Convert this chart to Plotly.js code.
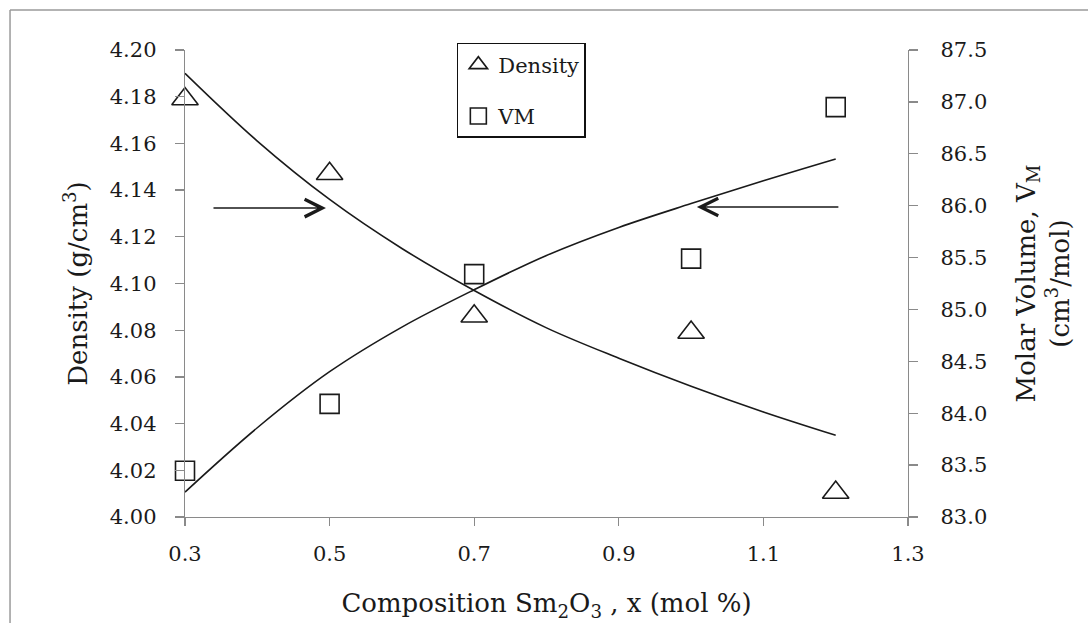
<!DOCTYPE html>
<html>
<head>
<meta charset="utf-8">
<script src="https://cdn.plot.ly/plotly-3.0.1.min.js"></script>
<style>html,body{margin:0;padding:0;background:#fff;}#chart{width:1088px;height:623px;}</style>
</head>
<body>
<div id="chart"></div>
<script>
// Measured points
const compositionX = [0.3, 0.5, 0.7, 1.0, 1.2];
const densityValues = [4.179, 4.147, 4.086, 4.079, 4.0105];
const molarVolumeValues = [83.445, 84.09, 85.34, 85.49, 86.95];

// Fitted trend curves
const fitX = [0.3, 0.4, 0.5, 0.6, 0.7, 0.8, 0.9, 1.0, 1.1, 1.2];
const densityFit = [4.190, 4.161, 4.136, 4.115, 4.097, 4.081, 4.068, 4.056, 4.045, 4.035];
const molarVolumeFit = [83.24, 83.86, 84.40, 84.83, 85.19, 85.52, 85.79, 86.02, 86.24, 86.45];

const FONT = '"DejaVu Serif", "Liberation Serif", serif';
const INK = '#1a1a1a';
const AX = '#8a8a8a';

const traces = [
  {x: fitX, y: densityFit, type: 'scatter', mode: 'lines', line: {color: INK, width: 1.6, shape: 'spline'},
   showlegend: false, hoverinfo: 'skip', yaxis: 'y'},
  {x: fitX, y: molarVolumeFit, type: 'scatter', mode: 'lines', line: {color: INK, width: 1.6, shape: 'spline'},
   showlegend: false, hoverinfo: 'skip', yaxis: 'y2'},
  {x: compositionX, y: densityValues, type: 'scatter', mode: 'markers', name: 'Density', legendgroup: 'd',
   cliponaxis: false,
   marker: {symbol: 'triangle-up-open', size: 23, color: INK, line: {width: 1.6, color: INK}}, yaxis: 'y'},
  {x: compositionX, y: molarVolumeValues, type: 'scatter', mode: 'markers', name: 'VM', legendgroup: 'v',
   cliponaxis: false,
   marker: {symbol: 'square-open', size: 19, color: INK, line: {width: 1.6, color: INK}}, yaxis: 'y2'}
];

const axisCommon = {
  showgrid: false, zeroline: false, showline: true, linecolor: AX, linewidth: 1.3,
  ticks: 'outside', tickcolor: AX, tickwidth: 1.3,
  tickfont: {family: FONT, size: 21, color: INK}
};

const layout = {
  width: 1088, height: 623,
  margin: {l: 185, r: 180, t: 50, b: 106},
  paper_bgcolor: '#fff', plot_bgcolor: '#fff',
  font: {family: FONT, color: INK},
  xaxis: Object.assign({}, axisCommon, {
    range: [0.3, 1.3], tick0: 0.3, dtick: 0.2, tickformat: '.1f', ticklen: 8, ticklabelstandoff: 9,
    title: {text: 'Composition Sm<sub>2</sub>O<sub>3</sub> , x (mol %)', font: {family: FONT, size: 26, color: INK}, standoff: 29}
  }),
  yaxis: Object.assign({}, axisCommon, {
    range: [4.0, 4.2], dtick: 0.02, tickformat: '.2f', ticklen: 9, ticklabelstandoff: 14,
    title: {text: 'Density (g/cm<sup>3</sup>)', font: {family: FONT, size: 26, color: INK}, standoff: 14}
  }),
  yaxis2: Object.assign({}, axisCommon, {
    overlaying: 'y', side: 'right', anchor: 'x',
    range: [83.0, 87.5], dtick: 0.5, tickformat: '.1f', ticklen: 9, ticklabelstandoff: 18,
    title: {text: 'Molar Volume, V<sub>M</sub><br>(cm<sup>3</sup>/mol)', font: {family: FONT, size: 26, color: INK}, standoff: 30}
  }),
  legend: {
    x: 0.376, y: 1.015, xanchor: 'left', yanchor: 'top',
    bgcolor: '#fff', bordercolor: '#111', borderwidth: 1.5,
    font: {family: FONT, size: 21, color: INK},
    tracegroupgap: 21, itemwidth: 30
  },
  annotations: [
    {x: 0.495, y: 4.1323, xref: 'x', yref: 'y', text: '', showarrow: true, ax: -114, ay: 0,
     arrowhead: 5, arrowsize: 2.3, arrowwidth: 1.5, arrowcolor: INK, standoff: 0},
    {x: 1.008, y: 85.987, xref: 'x', yref: 'y2', text: '', showarrow: true, ax: 143, ay: 0,
     arrowhead: 5, arrowsize: 2.3, arrowwidth: 1.5, arrowcolor: INK, standoff: 0}
  ],
  shapes: [
    {type: 'line', xref: 'paper', yref: 'paper', x0: -0.242, x1: -0.242, y0: 1.0857, y1: -0.3,
     line: {color: '#9a9a9a', width: 1.5}},
    {type: 'line', xref: 'paper', yref: 'paper', x0: -0.242, x1: 1.3, y0: 1.0857, y1: 1.0857,
     line: {color: '#9a9a9a', width: 1.5}}
  ]
};

Plotly.newPlot('chart', traces, layout, {displayModeBar: false, staticPlot: true});
</script>
</body>
</html>
